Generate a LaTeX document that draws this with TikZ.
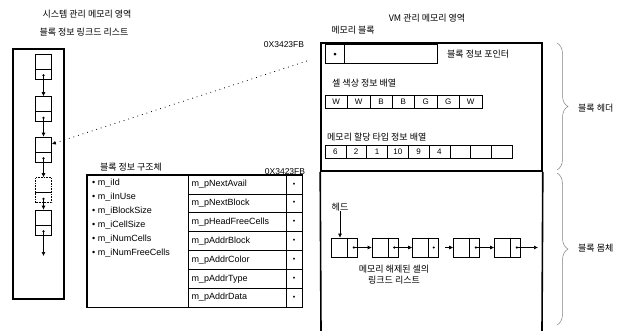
\documentclass[tikz,border=0pt]{standalone}
\usepackage{fontspec}
\setmainfont{Liberation Sans}
\newfontfamily\kr{Noto Sans CJK KR}
\usetikzlibrary{arrows.meta,calc,decorations.pathreplacing}
\begin{document}
\begin{tikzpicture}[x=1pt,y=-1pt,
  lbl/.style={font=\kr\fontsize{9}{11}\selectfont, inner sep=0pt},
  mono/.style={font=\fontsize{9}{10}\selectfont, inner sep=0pt},
  addr/.style={font=\fontsize{8.5}{10}\selectfont, inner sep=0pt},
  heavy/.style={draw, line width=1.6pt},
  thin/.style={draw, line width=0.6pt},
  lbox/.style={thin, minimum width=16pt, minimum height=25pt, inner sep=0pt},
  cell/.style={thin, minimum height=13pt, inner sep=0pt, font=\fontsize{8}{9}\selectfont},
  lnode/.style={thin, minimum width=26pt, minimum height=19pt, inner sep=0pt},
  rowcell/.style={thin, minimum height=18.857pt, text width=91pt, align=left, inner xsep=3.5pt, inner ysep=0pt, font=\fontsize{9}{10}\selectfont},
  dotcell/.style={thin, minimum height=18.857pt, minimum width=16pt, inner sep=0pt, font=\fontsize{7}{8}\selectfont},
  arr/.style={line width=0.6pt, -{Latex[length=4pt,width=4pt]}},
  darr/.style={line width=0.6pt, {Circle[length=2.2pt]}-{Latex[length=4pt,width=4pt]}},
  brc/.style={decorate, decoration={brace, amplitude=11pt}, draw=gray, line width=0.5pt},
]
\useasboundingbox (0,0) rectangle (641,330);

% ---- left: system managed memory ----
\node[lbl] (t1) at (87,14) {시스템 관리 메모리 영역};
\node[lbl] (t2) at (84,32) {블록 정보 링크드 리스트};
\node[heavy, minimum width=51pt, minimum height=250pt, inner sep=0pt] (lb) at (38.5,174) {};

\node[lbox] (b1) at (43.5,66.5) {};
\node[lbox] (b2) at (43.5,109) {};
\node[lbox] (b3) at (43.5,149.5) {};
\node[lbox, densely dotted] (b4) at (43.5,190) {};
\node[lbox] (b5) at (43.5,222.5) {};
\foreach \b in {b1,b2,b3,b4,b5}
  \draw[line width=0.6pt] ($(\b.north west)!0.6!(\b.south west)$) -- ($(\b.north east)!0.6!(\b.south east)$);
\coordinate (bend) at (43.5,256);
\draw[darr] ([yshift=5pt]b1.south) -- (b2.north);
\draw[darr] ([yshift=5pt]b2.south) -- (b3.north);
\draw[darr] ([yshift=5pt]b3.south) -- (b4.north);
\draw[darr] ([yshift=5pt]b4.south) -- (b5.north);
\draw[darr] ([yshift=5pt]b5.south) -- (bend);

% ---- memory block ----
\node[lbl] (vm) at (427,18) {VM 관리 메모리 영역};
\node[lbl] (mbl) at (353,30) {메모리 블록};
\node[addr] (addr1) at (284,45) {0X3423FB};
\node[heavy, minimum width=221pt, minimum height=128pt, inner sep=0pt] (hdr) at (431.5,107) {};
\draw[heavy] (hdr.south west) -- (321,331);
\draw[heavy] (hdr.south east) -- (542,331);

\node[thin, minimum width=112pt, minimum height=19pt, inner sep=0pt] (ptrbox) at (381,53.5) {};
\draw[line width=0.6pt] ([xshift=20pt]ptrbox.north west) -- ([xshift=20pt]ptrbox.south west);
\fill (335,54) circle (1.5pt);
\node[lbl, anchor=west] (ptrlbl) at (447,54) {블록 정보 포인터};
\coordinate (ptrsrc) at (307,61);
\draw[loosely dotted, line width=0.8pt, -{Latex[length=4pt,width=4pt]}] (ptrsrc) -- ([yshift=5.5pt]b3.east);

\node[lbl, anchor=west] (collbl) at (332,83) {셀 색상 정보 배열};
\foreach \t [count=\i] in {W,W,B,B,G,G,W}
  \node[cell, minimum width=22.4pt] (c\i) at ({325+22.4*(\i-0.5)},101.5) {\t};

\node[lbl, anchor=west] (typlbl) at (327,137) {메모리 할당 타입 정보 배열};
\foreach \t [count=\i] in {6,2,1,10,9,4,{},{},{}}
  \node[cell, minimum width=20.8pt] (a\i) at ({325+20.8*(\i-0.5)},151.5) {\t};

\draw[brc] (557,43) -- (557,170);
\node[lbl, anchor=west] (hdrlbl) at (578,108) {블록 헤더};
\draw[brc] (557,173) -- (557,325);
\node[lbl, anchor=west] (bodylbl) at (578,248) {블록 몸체};

% body: free cell list
\node[lbl] (head) at (340,207) {헤드};
\node[lnode] (l1) at (344.5,247.5) {};
\node[lnode] (l2) at (385,247.5) {};
\node[lnode] (l3) at (425.5,247.5) {};
\node[lnode] (l4) at (466.5,247.5) {};
\node[lnode] (l5) at (507.5,247.5) {};
\foreach \l in {l1,l2,l3,l4,l5}
  \draw[line width=0.6pt] ($(\l.north west)!0.62!(\l.north east)$) -- ($(\l.south west)!0.62!(\l.south east)$);
\draw[arr] (head.south) -- (head.south |- l1.north);
\draw[darr] ([xshift=-5pt]l1.east) -- (l2.west);
\draw[darr] ([xshift=-5pt]l2.east) -- (l3.west);
\fill ([xshift=-5pt]l3.east) circle (1.1pt);
\coordinate (gap) at (445,247.5);
\draw[arr] (gap) -- (l4.west);
\draw[darr] ([xshift=-5pt]l4.east) -- (l5.west);
\coordinate (tail) at (538,247.5);
\draw[darr] ([xshift=-5pt]l5.east) -- (tail);
\node[lbl, align=center] (freelbl) at (394,275) {메모리 해제된 셀의\\링크드 리스트};

% ---- block info structure ----
\node[lbl] (stlbl) at (131,167) {블록 정보 구조체};
\node[addr] (addr2) at (285,172) {0X3423FB};
\node[thin, minimum width=101pt, minimum height=132pt, inner sep=0pt] (lc) at (137.5,241) {};
\foreach \t [count=\i] in {m\_pNextAvail,m\_pNextBlock,m\_pHeadFreeCells,m\_pAddrBlock,m\_pAddrColor,m\_pAddrType,m\_pAddrData}{
  \node[rowcell] (r\i) at (237,{175+18.857*(\i-0.5)}) {\t};
  \node[dotcell] (d\i) at (294,{175+18.857*(\i-0.5)}) {•};
}
\draw[heavy] (lc.north west) rectangle (d7.south east);
\foreach \t [count=\i] in {m\_iId,m\_iInUse,m\_iBlockSize,m\_iCellSize,m\_iNumCells,m\_iNumFreeCells}
  \node[mono, anchor=west] (f\i) at (92,{183+14*(\i-1)}) {• \t};

\end{tikzpicture}
\end{document}
